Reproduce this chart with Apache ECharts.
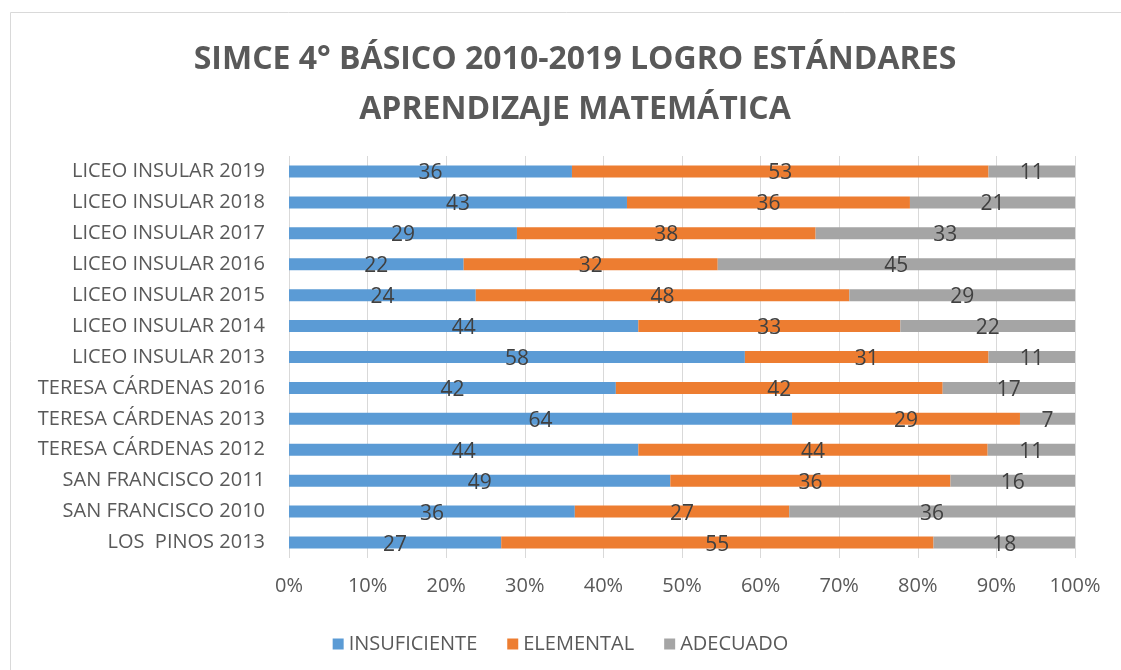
<!DOCTYPE html>
<html>
<head>
<meta charset="utf-8">
<script src="https://cdn.jsdelivr.net/npm/echarts@6/dist/echarts.min.js"></script>
<style>
  html, body { margin: 0; padding: 0; background: #fff; }
  #chart { width: 1121px; height: 670px; }
</style>
</head>
<body>
<div id="chart"></div>
<script>
// categorias de arriba hacia abajo
const categorias = [
    'LICEO INSULAR 2019', 'LICEO INSULAR 2018', 'LICEO INSULAR 2017',
    'LICEO INSULAR 2016', 'LICEO INSULAR 2015', 'LICEO INSULAR 2014',
    'LICEO INSULAR 2013', 'TERESA CÁRDENAS 2016', 'TERESA CÁRDENAS 2013',
    'TERESA CÁRDENAS 2012', 'SAN FRANCISCO 2011', 'SAN FRANCISCO 2010',
    'LOS  PINOS 2013'
];
const insuficiente = [36, 43, 29, 22, 24, 44, 58, 42, 64, 44, 49, 36, 27];
const elemental    = [53, 36, 38, 32, 48, 33, 31, 42, 29, 44, 36, 27, 55];
const adecuado     = [11, 21, 33, 45, 29, 22, 11, 17, 7, 11, 16, 36, 18];
const ticksPct = ['0%', '10%', '20%', '30%', '40%', '50%', '60%', '70%', '80%', '90%', '100%'];

const fuente = 'Open Sans';

// barras al 100%: cada valor se divide por el total de su fila
const totales = categorias.map((c, i) => insuficiente[i] + elemental[i] + adecuado[i]);
const aPct = arr => arr.map((v, i) => ({ value: v / totales[i] * 100, raw: v }));

const serie = (nombre, datos, color) => ({
    name: nombre,
    type: 'bar',
    stack: 'total',
    barWidth: 12,
    itemStyle: { color: color },
    label: {
        show: true,
        position: 'inside',
        offset: [0, 2],
        color: '#404040',
        fontFamily: fuente,
        fontSize: 21,
        formatter: p => p.data.raw
    },
    data: aPct(datos)
});

const chart = echarts.init(document.getElementById('chart'));
chart.setOption({
    animation: false,
    graphic: [{
        type: 'rect',
        shape: { x: 10.5, y: 12.5, width: 1200, height: 700 },
        style: { fill: 'none', stroke: '#d9d9d9', lineWidth: 1 }
    }],
    title: {
        text: 'SIMCE 4° BÁSICO 2010-2019 LOGRO ESTÁNDARES\nAPRENDIZAJE MATEMÁTICA',
        left: 570,
        textAlign: 'center',
        top: 30,
        textStyle: {
            fontFamily: fuente,
            fontWeight: 'bold',
            fontSize: 32,
            lineHeight: 50,
            color: '#595959'
        }
    },
    legend: {
        top: 629,
        left: 'center',
        itemWidth: 11,
        itemHeight: 11,
        itemGap: 30,
        icon: 'rect',
        textStyle: { fontFamily: fuente, fontSize: 20, color: '#595959' },
        data: ['INSUFICIENTE', 'ELEMENTAL', 'ADECUADO']
    },
    grid: { left: 289, right: 46, top: 156, bottom: 112, containLabel: false },
    xAxis: {
        type: 'value',
        min: 0,
        max: 100,
        interval: 10,
        axisLine: { show: false },
        axisTick: { show: false },
        splitLine: { lineStyle: { color: '#d9d9d9', width: 1 } },
        axisLabel: {
            margin: 18,
            fontFamily: fuente,
            fontSize: 20,
            color: '#595959',
            formatter: v => ticksPct[Math.round(v / 10)]
        }
    },
    yAxis: {
        type: 'category',
        inverse: true,
        data: categorias,
        axisLine: { show: false },
        axisTick: { show: false },
        axisLabel: { margin: 24, fontFamily: fuente, fontSize: 20, color: '#595959' }
    },
    series: [
        serie('INSUFICIENTE', insuficiente, '#5b9bd5'),
        serie('ELEMENTAL', elemental, '#ed7d31'),
        serie('ADECUADO', adecuado, '#a5a5a5')
    ]
});
</script>
</body>
</html>
